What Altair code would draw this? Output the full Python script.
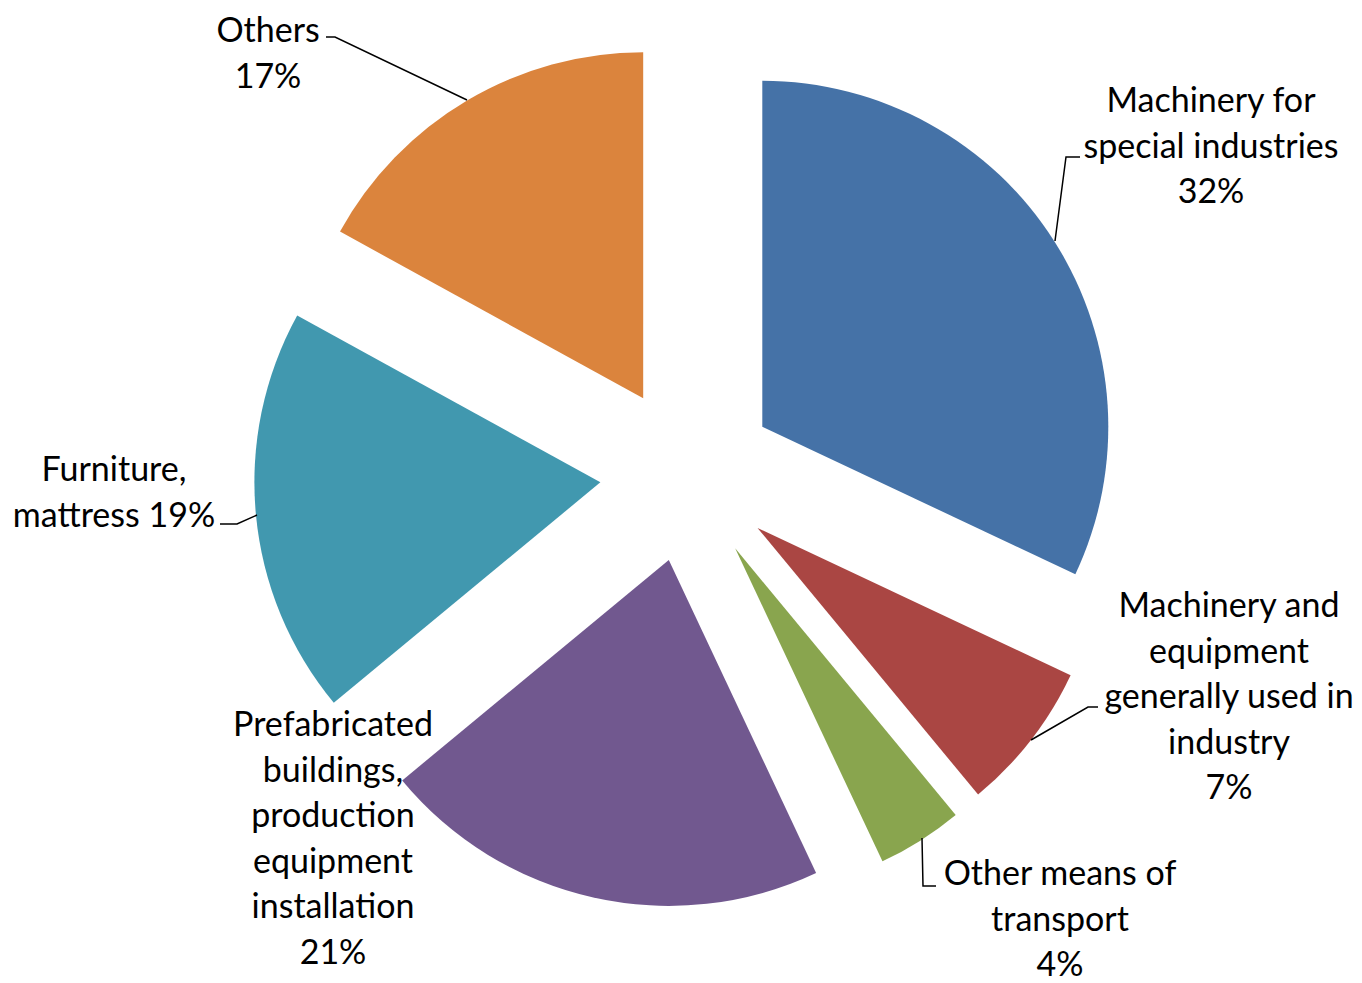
import altair as alt
import pandas as pd

# ---- data ----
categories = [
    "Machinery for special industries",
    "Machinery and equipment generally used in industry",
    "Other means of transport",
    "Prefabricated buildings, production equipment installation",
    "Furniture, mattress",
    "Others",
]
shares = [32, 7, 4, 21, 19, 17]
label_lines = [
    "Machinery for\nspecial industries\n32%",
    "Machinery and\nequipment\ngenerally used in\nindustry\n7%",
    "Other means of\ntransport\n4%",
    "Prefabricated\nbuildings,\nproduction\nequipment\ninstallation\n21%",
    "Furniture,\nmattress 19%",
    "Others\n17%",
]
colors = ["#4572A7", "#AA4643", "#89A54E", "#71588F", "#4198AF", "#DB843D"]

# ---- layout (styles / positions, kept apart from data) ----
CX, CY, EXPLODE, R = 680, 466, 88, 346
FONT, FS, LH = "Lato", 34, 45.5
label_pos = [  # (x center, first baseline) in plot pixels
    (1203, 104),
    (1221, 609),
    (1052, 877),
    (325, 728),
    (106, 473),
    (260, 34),
]
leader_pts = [
    [(1072, 149), (1058, 149), (1047, 233)],
    [(1090, 699), (1080, 699), (1023, 732)],
    [(928, 878), (915, 878), (914, 830)],
    [],
    [(212, 516), (229, 516), (249, 507)],
    [(318, 29), (327, 29), (459, 92)],
]

df = pd.DataFrame({"category": categories, "share": shares, "order": list(range(len(categories)))})

pie = (
    alt.Chart(df)
    .transform_window(cum="sum(share)", sort=[alt.SortField("order")], frame=[None, 0])
    .transform_joinaggregate(total="sum(share)")
    .transform_calculate(
        t0="(datum.cum - datum.share) / datum.total * 2 * PI",
        t1="datum.cum / datum.total * 2 * PI",
    )
    .transform_calculate(mid="(datum.t0 + datum.t1) / 2")
    .transform_calculate(
        cx=f"{CX} + {EXPLODE} * sin(datum.mid)",
        cy=f"{CY} - {EXPLODE} * cos(datum.mid)",
    )
    .mark_arc(outerRadius=R, innerRadius=0)
    .encode(
        x=alt.X("cx:Q", scale=None, axis=None),
        y=alt.Y("cy:Q", scale=None, axis=None),
        theta=alt.Theta("t0:Q", scale=None),
        theta2="t1:Q",
        color=alt.Color("category:N", scale=alt.Scale(domain=categories, range=colors), legend=None),
    )
)

lab_df = pd.DataFrame({
    "category": categories,
    "text": label_lines,
    "lx": [p[0] for p in label_pos],
    "ly": [p[1] for p in label_pos],
})
labels = (
    alt.Chart(lab_df)
    .mark_text(align="center", baseline="alphabetic", lineBreak="\n", lineHeight=LH,
               font=FONT, fontSize=FS, color="black")
    .encode(x=alt.X("lx:Q", scale=None, axis=None), y=alt.Y("ly:Q", scale=None, axis=None), text="text:N")
)

rows = []
for cat, pts in zip(categories, leader_pts):
    for i, (px, py) in enumerate(pts):
        rows.append({"category": cat, "i": i, "px": px, "py": py})
lead_df = pd.DataFrame(rows)
leaders = (
    alt.Chart(lead_df)
    .mark_line(color="black", strokeWidth=1.5)
    .encode(
        x=alt.X("px:Q", scale=None, axis=None),
        y=alt.Y("py:Q", scale=None, axis=None),
        detail="category:N",
        order="i:Q",
    )
)

chart = (
    alt.layer(pie, leaders, labels)
    .properties(width=1346, height=975, autosize="none", padding=0)
    .configure_view(stroke=None)
)

chart.save("out.html", embed_options={"renderer": "svg", "actions": False})
